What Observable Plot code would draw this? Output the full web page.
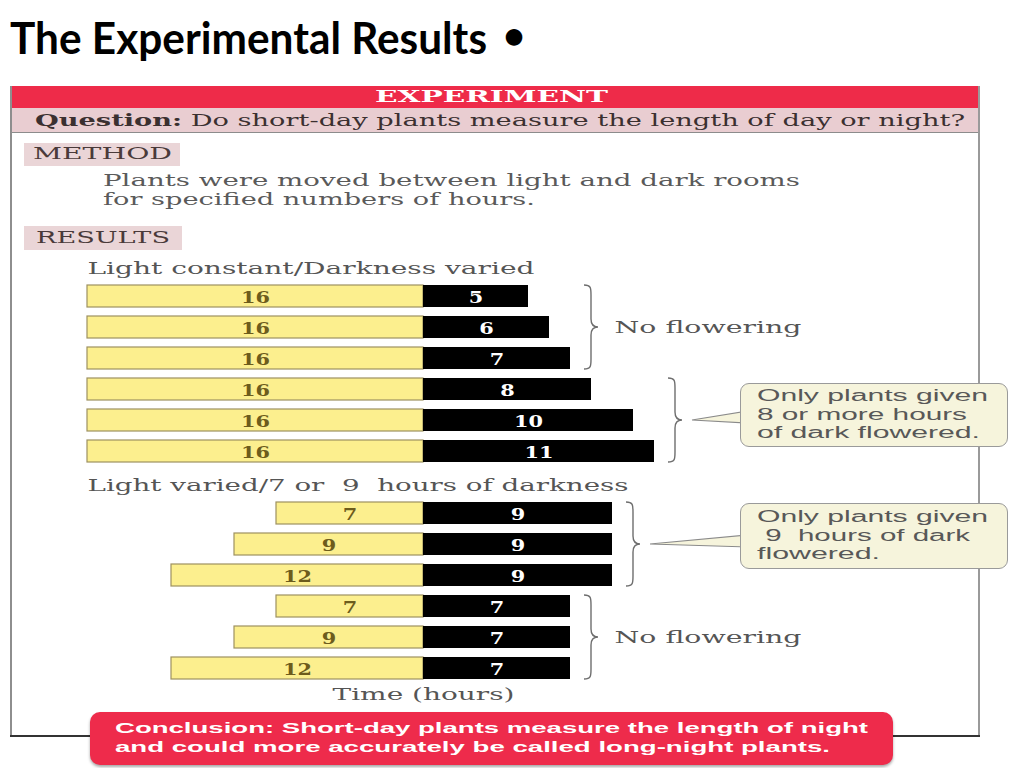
<!DOCTYPE html>
<html><head><meta charset="utf-8">
<script src="https://cdn.jsdelivr.net/npm/d3@7"></script>
<script src="https://cdn.jsdelivr.net/npm/@observablehq/plot@0.6"></script>
<style>
html,body{margin:0;padding:0;background:#fff;width:1024px;height:768px;overflow:hidden;position:relative}
.box{position:absolute;box-sizing:border-box}
#chart{position:absolute;left:0;top:0;z-index:2}
#chart svg text{white-space:pre}
</style></head><body>
<div id="chart"></div>
<script>
// ---------------- data ----------------
const rowIds      = ["A1","A2","A3","A4","A5","A6","B1","B2","B3","B4","B5","B6"];
const lightHours  = [16,16,16,16,16,16, 7, 9,12, 7, 9,12];
const darkHours   = [ 5, 6, 7, 8,10,11, 9, 9, 9, 7, 7, 7];
const sectionIds    = ["S1","S2"];
const sectionLabels = ["Light constant/Darkness varied", "Light varied/7 or  9  hours of darkness"];
const outcomeRows   = [[0,1,2],[3,4,5],[6,7,8],[9,10,11]];
const outcomeTexts  = ["No flowering", null, null, "No flowering"];
const calloutTexts  = [null,
  ["Only plants given","8 or more hours","of dark flowered."],
  ["Only plants given"," 9  hours of dark","flowered."], null];
const axisLabel = "Time (hours)";
const titleText = "The Experimental Results";
const headerText = "EXPERIMENT";
const questionBold = "Question:";
const questionText = " Do short-day plants measure the length of day or night?";
const methodLabel = "METHOD";
const methodLines = ["Plants were moved between light and dark rooms","for specified numbers of hours."];
const resultsLabel = "RESULTS";
const conclusionLines = ["Conclusion: Short-day plants measure the length of night","and could more accurately be called long-night plants."];

// ---------------- derived tables ----------------
const table = rowIds.map((id,i)=>({id, light: lightHours[i], dark: darkHours[i]}));
const rowOrder = [sectionIds[0], ...rowIds.slice(0,6), sectionIds[1], ...rowIds.slice(6)];
const sections = sectionIds.map((id,i)=>({id, text: sectionLabels[i]}));
const groups = outcomeRows.map((idx,g)=>({
  rows: idx.map(i=>rowIds[i]),
  mid: rowIds[idx[Math.floor(idx.length/2)]],
  maxDark: d3.max(idx, i=>darkHours[i]),
  text: outcomeTexts[g],
  callout: calloutTexts[g]
}));
const maxLight = d3.max(lightHours);

// ---------------- layout helpers ----------------
function rect(o){
  const el=document.createElement("div"); el.className="box";
  Object.assign(el.style,{left:o.x+"px",top:o.y+"px",width:o.w+"px",height:o.h+"px",zIndex:o.z??1},o.style||{});
  document.body.appendChild(el); return el;
}
const SERIF = "'DejaVu Serif', serif", SANS = "'Liberation Sans', sans-serif";
const fits=[];
function line(text,o){
  const el=document.createElement("div");
  el.textContent=text;
  Object.assign(el.style,{position:"absolute",left:o.x+"px",top:(o.cy-(o.k??0.5)*o.size)+"px",
    font:`${o.weight||400} ${o.size}px ${o.font}`,lineHeight:o.size+"px",color:o.color,
    whiteSpace:"pre",transformOrigin:"0 50%",zIndex:o.z??3});
  document.body.appendChild(el);
  if(o.w) fits.push([el,o.w]);
  return el;
}
function applyFits(){
  fits.forEach(([el,w])=>{el.style.transform="none";const r=el.getBoundingClientRect().width;if(r>0)el.style.transform=`scaleX(${w/r})`;});
}

// ---------------- slide title ----------------
line(titleText,{x:10,cy:37,size:43,font:"Lato, sans-serif",weight:700,color:"#000",w:477,k:0.5});
line("\u2022",{x:503,cy:36,size:38,font:"Lato, sans-serif",weight:700,color:"#000",k:0.55});

// ---------------- panel frame ----------------
rect({x:10,y:86,w:970,h:22,style:{background:"#ee2b49"}});
rect({x:10,y:108,w:970,h:25,style:{background:"#e9cdd1",borderBottom:"1px solid #8c8c8c"}});
rect({x:10,y:86,w:2,h:651,style:{background:"#8e8e8e"}});
rect({x:978,y:86,w:2,h:651,style:{background:"#9a9a9a"}});
rect({x:10,y:735,w:970,h:2,style:{background:"#333"}});
rect({x:24,y:143,w:156,h:23,style:{background:"#ead5d7"}});
rect({x:24,y:226,w:158,h:24,style:{background:"#ead5d7"}});

line(headerText,{x:375,cy:97,size:16,font:SERIF,weight:700,color:"#fff",w:233});
const q=line("",{x:35,cy:120,size:17,font:SERIF,color:"#3b3030",w:930});
q.innerHTML=`<b>${questionBold}</b>${questionText}`;
line(methodLabel,{x:33,cy:154,size:16,font:SERIF,color:"#4a3a3a",w:139});
line(methodLines[0],{x:103,cy:181,size:16,font:SERIF,color:"#5a5a5a",w:697});
line(methodLines[1],{x:103,cy:199.5,size:16,font:SERIF,color:"#5a5a5a",w:432});
line(resultsLabel,{x:36,cy:238,size:16,font:SERIF,color:"#4a3a3a",w:134});

// ---------------- callouts ----------------
const calloutLeft = 740;
const calloutBoxes=[null,{y:383,h:64,lines:[397,415.5,434],w:[231,210,223]},{y:503,h:66,lines:[518,536.5,555],w:[231,213,123]},null];
groups.forEach((g,i)=>{
  if(!g.callout) return;
  const b=calloutBoxes[i];
  rect({x:calloutLeft,y:b.y,w:268,h:b.h,z:3,style:{background:"#f6f4dc",border:"1.5px solid #9a9a9a",borderRadius:"9px"}});
  g.callout.forEach((t,j)=>line(t,{x:757,cy:b.lines[j],size:16,font:SANS,color:"#585858",w:b.w[j],k:0.55,z:4}));
});

// ---------------- conclusion ----------------
rect({x:90,y:712,w:803,h:53,z:3,style:{background:"#ee2b4b",borderRadius:"10px",boxShadow:"0 2px 3px rgba(0,0,0,.35)"}});
line(conclusionLines[0],{x:115,cy:729,size:15.5,font:SANS,weight:700,color:"#fff",w:753,k:0.55,z:4});
line(conclusionLines[1],{x:115,cy:747.5,size:15.5,font:SANS,weight:700,color:"#fff",w:715,k:0.55,z:4});

// ---------------- chart ----------------
const K = 21, CX = 423; // px per hour, zero position
function braces(index, scales){
  const {x,y}=scales;
  const bw = typeof y.bandwidth==="function" ? y.bandwidth() : (y.bandwidth ?? 22);
  const g=d3.create("svg:g");
  groups.forEach(grp=>{
    const x0=x(grp.maxDark)+14, w=7;
    const y0=y(grp.rows[0]), y1=y(grp.rows[grp.rows.length-1])+bw, ym=(y0+y1)/2;
    g.append("path").attr("fill","none").attr("stroke","#6e6e6e").attr("stroke-width",1.4)
     .attr("d",`M${x0},${y0} C${x0+w},${y0} ${x0+w},${y0+3} ${x0+w},${y0+10} L${x0+w},${ym-8} C${x0+w},${ym-2} ${x0+w+3},${ym} ${x0+2*w},${ym} C${x0+w+3},${ym} ${x0+w},${ym+2} ${x0+w},${ym+8} L${x0+w},${y1-10} C${x0+w},${y1-3} ${x0+w},${y1} ${x0},${y1}`);
    if(grp.callout){
      const tip=x0+2*w+10;
      g.append("path").attr("fill","#f6f4dc").attr("stroke","#8a8a8a").attr("stroke-width",1.2)
       .attr("d",`M${tip},${ym} L${calloutLeft+8},${ym-9} L${calloutLeft+8},${ym+3} Z`);
    }
  });
  return g.node();
}

const svg = Plot.plot({
  width:1024, height:768,
  marginTop:250, marginBottom:84, marginLeft:0, marginRight:0,
  style:{background:"transparent",overflow:"visible"},
  x:{domain:[-CX/K,(1024-CX)/K], axis:null},
  y:{domain:rowOrder, axis:null, paddingInner:0.29, paddingOuter:0.145},
  marks:[
    Plot.barX(table,{y:"id",x1:d=>-d.light,x2:0,fill:"#fcef8e",stroke:"#9d9160",strokeWidth:1.2}),
    Plot.barX(table,{y:"id",x1:0,x2:"dark",fill:"#000"}),
    Plot.text(table,{y:"id",x:d=>-d.light/2,text:d=>String(d.light),fill:"#6d5c1c",fontFamily:SERIF,fontWeight:"bold",fontSize:16,dy:1}),
    Plot.text(table,{y:"id",x:d=>d.dark/2,text:d=>String(d.dark),fill:"#fff",fontFamily:SERIF,fontWeight:"bold",fontSize:16,dy:1}),
    Plot.text(sections,{y:"id",x:()=>-maxLight,text:"text",textAnchor:"start",fill:"#555",fontFamily:SERIF,fontSize:16.5,dy:3}),
    Plot.text(groups.filter(g=>g.text),{y:"mid",x:"maxDark",text:"text",textAnchor:"start",dx:44,fill:"#555",fontFamily:SERIF,fontSize:17}),
    Plot.text([axisLabel],{x:()=>0,frameAnchor:"bottom",lineAnchor:"middle",dy:10,text:d=>d,fill:"#555",fontFamily:SERIF,fontSize:16.5}),
    braces
  ]
});
document.getElementById("chart").appendChild(svg);

const svgWidths = new Map([[sectionLabels[0],447],[sectionLabels[1],541],["No flowering",187],[axisLabel,182]]);
function fitSvg(){
  svg.querySelectorAll("text").forEach(t=>{
    t.removeAttribute("textLength");
    const s=t.textContent, len=t.getComputedTextLength();
    let target = svgWidths.get(s) ?? (/^\d+$/.test(s) ? len*1.3 : null);
    if(target && len>0){t.setAttribute("textLength",target);t.setAttribute("lengthAdjust","spacingAndGlyphs");}
  });
}
applyFits(); fitSvg();
if(document.fonts&&document.fonts.ready) document.fonts.ready.then(()=>{applyFits();fitSvg();});
</script>
</body></html>
